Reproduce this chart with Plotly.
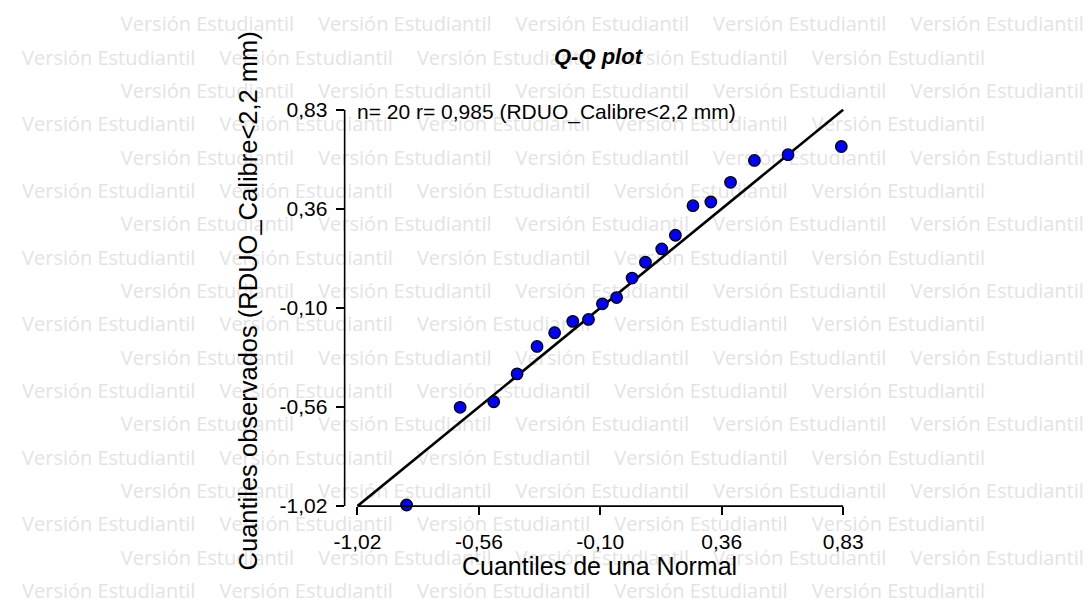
import plotly.graph_objects as go

# ---------------- data ----------------
theoretical_q = [-0.833, -0.629, -0.501, -0.412, -0.336, -0.269, -0.200, -0.140, -0.087, -0.033,
                 0.026, 0.077, 0.139, 0.191, 0.258, 0.326, 0.401, 0.492, 0.620, 0.823]
observed_q = [-1.015, -0.559, -0.533, -0.403, -0.275, -0.211, -0.158, -0.149, -0.076, -0.047,
              0.044, 0.118, 0.180, 0.244, 0.382, 0.399, 0.491, 0.593, 0.620, 0.658]
axis_min, axis_max = -1.02, 0.83
tick_labels = ["-1,02", "-0,56", "-0,10", "0,36", "0,83"]
n_obs = 20
r_text = "0,985"
var_name = "RDUO_Calibre&lt;2,2 mm"
chart_title = "Q-Q plot"
x_title = "Cuantiles de una Normal"
y_title = f"Cuantiles observados ({var_name})"
watermark = "Versión Estudiantil"

# ---------------- layout geometry (pixels) ----------------
W, H = 1087, 613
px_left, px_right, px_top, px_bottom = 338, 860, 100, 515
tick_x0, tick_x1 = 351, 843          # pixel of axis_min / axis_max on x
tick_y1 = 110                          # pixel of axis_max on y
span = axis_max - axis_min
ppx = (tick_x1 - tick_x0) / span
ppy = (px_bottom - tick_y1) / span
x_range = [axis_min - (tick_x0 - px_left) / ppx, axis_max + (px_right - tick_x1) / ppx]
y_range = [axis_min, axis_max + (tick_y1 - px_top) / ppy]
tick_vals = [axis_min + i * span / (len(tick_labels) - 1) for i in range(len(tick_labels))]

FONT = "Liberation Sans, Arial, sans-serif"

fig = go.Figure()

# watermark (background layer, full-figure pixel axes)
wm_x, wm_y = [], []
for row in range(18):
    start = 113 if row % 2 == 0 else 13
    y = 25 + 34.05 * row
    for k in range(5):
        wm_x.append(start + 86 + 200 * k)
        wm_y.append(y)
fig.add_trace(go.Scatter(
    x=wm_x, y=wm_y, mode="text", text=[watermark] * len(wm_x),
    textposition="middle center",
    textfont=dict(family="Open Sans, sans-serif", size=20, color="#e3e3e3"),
    hoverinfo="skip", xaxis="x", yaxis="y", cliponaxis=False, showlegend=False,
))

# reference line
fig.add_trace(go.Scatter(
    x=[axis_min, axis_max], y=[axis_min, axis_max], mode="lines",
    line=dict(color="black", width=2.6), xaxis="x2", yaxis="y2",
    cliponaxis=False, showlegend=False, hoverinfo="skip",
))

# points
fig.add_trace(go.Scatter(
    x=theoretical_q, y=observed_q, mode="markers",
    marker=dict(size=11.5, color="#0000ff", line=dict(color="black", width=1.3)),
    xaxis="x2", yaxis="y2", cliponaxis=False, showlegend=False,
))

axis_common = dict(showgrid=False, zeroline=False, showline=False, ticks="outside",
                   ticklen=8, tickwidth=1.6, tickcolor="black",
                   tickfont=dict(family=FONT, size=21, color="black"),
                   tickmode="array", tickvals=tick_vals, ticktext=tick_labels)

fig.update_layout(
    width=W, height=H,
    margin=dict(l=0, r=0, t=0, b=0),
    paper_bgcolor="white", plot_bgcolor="rgba(0,0,0,0)",
    showlegend=False,
    xaxis=dict(domain=[0, 1], range=[0, W], visible=False, fixedrange=True),
    yaxis=dict(domain=[0, 1], range=[H, 0], visible=False, fixedrange=True),
    xaxis2=dict(domain=[px_left / W, px_right / W], range=x_range, anchor="y2",
                ticklabelstandoff=9, **axis_common),
    yaxis2=dict(domain=[1 - px_bottom / H, 1 - px_top / H], range=y_range, anchor="x2",
                ticklabelstandoff=4, **axis_common),
    shapes=[
        dict(type="line", xref="x2 domain", x0=0, x1=0, yref="y2", y0=axis_min, y1=axis_max,
             line=dict(color="black", width=1.6)),
        dict(type="line", xref="x2", x0=axis_min, x1=axis_max, yref="y2 domain", y0=0, y1=0,
             line=dict(color="black", width=1.6)),
    ],
    annotations=[
        dict(text=f"n= {n_obs} r= {r_text} ({var_name})", xref="x2", yref="y2",
             x=axis_min, y=axis_max, xanchor="left", yanchor="middle", showarrow=False,
             font=dict(family=FONT, size=21, color="black"), yshift=-2, xshift=-2),
        dict(text=f"<b><i>{chart_title}</i></b>", xref="paper", yref="paper",
             x=596 / W, y=1 - 55.5 / H, xanchor="center", yanchor="middle", showarrow=False,
             font=dict(family=FONT, size=22, color="black")),
        dict(text=x_title, xref="paper", yref="paper",
             x=596 / W, y=1 - 576 / H, xanchor="center", yanchor="middle", showarrow=False,
             font=dict(family=FONT, size=25, color="black")),
        dict(text=y_title, xref="paper", yref="paper", textangle=-90,
             x=240 / W, y=1 - 305 / H, xanchor="center", yanchor="middle", showarrow=False,
             font=dict(family=FONT, size=25.5, color="black")),
    ],
)

fig.write_html("out.html", config={"displayModeBar": False},
               post_script="document.body.style.margin='0px';")
